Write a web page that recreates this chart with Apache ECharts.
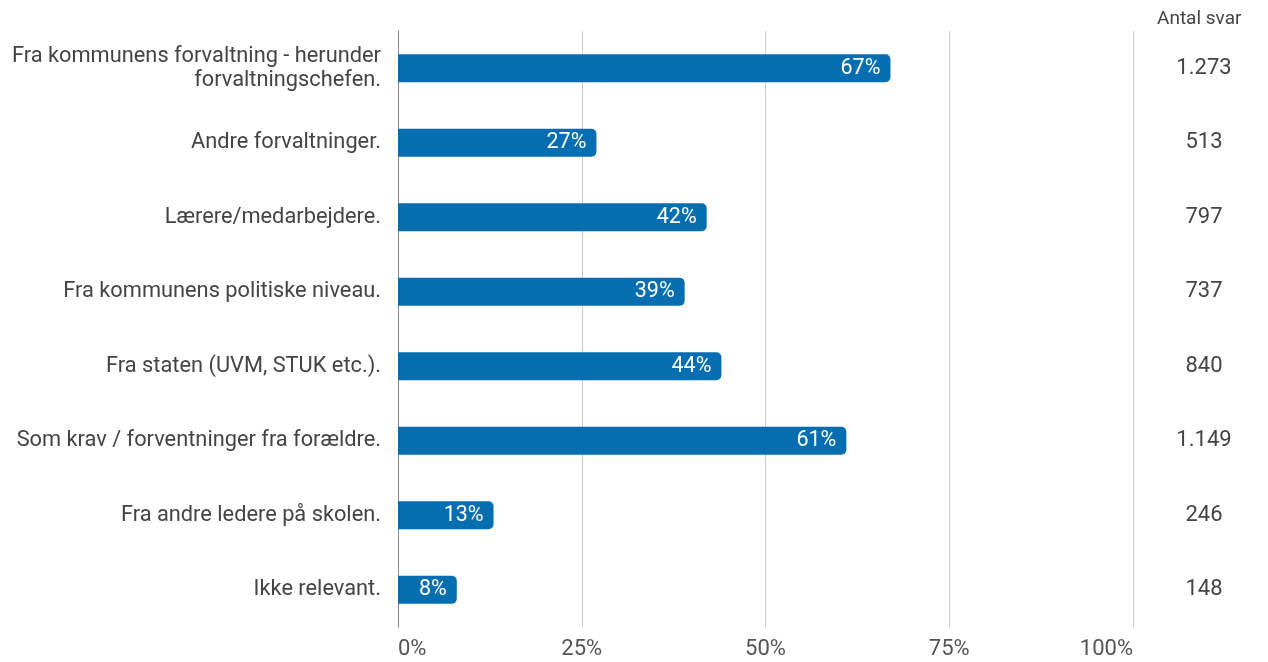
<!DOCTYPE html>
<html><head><meta charset="utf-8">
<script src="https://cdn.jsdelivr.net/npm/echarts@6/dist/echarts.min.js"></script>
<style>html,body{margin:0;padding:0;background:#fff}#c{width:1268px;height:662px}</style>
</head><body><div id="c"></div>
<script>
const categories = [
  "Fra kommunens forvaltning - herunder\nforvaltningschefen.",
  "Andre forvaltninger.",
  "Lærere/medarbejdere.",
  "Fra kommunens politiske niveau.",
  "Fra staten (UVM, STUK etc.).",
  "Som krav / forventninger fra forældre.",
  "Fra andre ledere på skolen.",
  "Ikke relevant."
];
const percentValues = [67, 27, 42, 39, 44, 61, 13, 8];
const answerCounts = ["1.273", "513", "797", "737", "840", "1.149", "246", "148"];
const xTicks = [0, 25, 50, 75, 100];
const countHeader = "Antal svar";

const chart = echarts.init(document.getElementById('c'), null, {renderer: 'canvas'});
const font = 'Roboto, "Noto Sans", sans-serif';
chart.setOption({
  animation: false,
  title: {
    text: countHeader, left: 1152, top: 5,
    textStyle: {fontFamily: font, fontSize: 19, fontWeight: 'normal', color: '#444'}
  },
  grid: {left: 398, right: 135, top: 31, bottom: 35, containLabel: false},
  xAxis: {
    type: 'value', min: xTicks[0], max: xTicks[xTicks.length - 1], interval: 25,
    axisLine: {show: false}, axisTick: {show: false},
    splitLine: {lineStyle: {color: '#cccccc', width: 1}},
    axisLabel: {
      formatter: '{value}%', fontFamily: font, fontSize: 22, color: '#555', margin: 11,
      alignMinLabel: 'left', alignMaxLabel: 'right'
    }
  },
  yAxis: [{
    type: 'category', data: categories, inverse: true,
    axisLine: {show: true, lineStyle: {color: '#888', width: 1}},
    axisTick: {show: false},
    axisLabel: {fontFamily: font, fontSize: 21.8, color: '#444', margin: 17, lineHeight: 24, align: 'right',
      padding: [3, 0, 0, 0]}
  }, {
    type: 'category', data: answerCounts, inverse: true, position: 'right',
    axisLine: {show: false}, axisTick: {show: false},
    axisLabel: {fontFamily: font, fontSize: 22, color: '#444', margin: 71, align: 'center',
      padding: [3, 0, 0, 0]}
  }],
  series: [{
    type: 'bar', data: percentValues, barWidth: 28,
    itemStyle: {color: '#046eb0', borderRadius: [0, 5, 5, 0]},
    label: {
      show: true, position: 'insideRight', formatter: '{c}%', distance: 10,
      fontFamily: font, fontSize: 21.5, color: '#fff'
    }
  }]
});
</script></body></html>
